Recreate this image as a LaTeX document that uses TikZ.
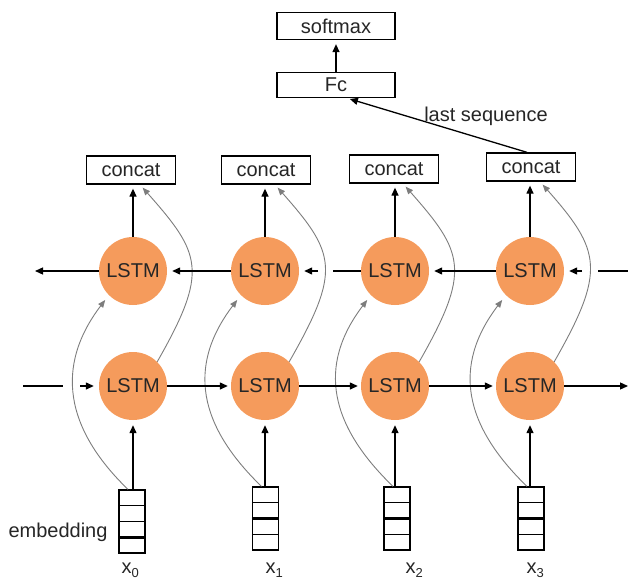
\documentclass[tikz,border=0pt]{standalone}
\usepackage{fontspec}
\setmainfont{Liberation Sans}
\usetikzlibrary{arrows.meta,calc}
\definecolor{lstmorange}{RGB}{245,155,92}
\definecolor{curvegray}{RGB}{125,125,125}
\begin{document}
\begin{tikzpicture}[x=1pt,y=-1pt,
  txt/.style={font=\fontsize{20}{24}\selectfont,text=black!85},
  box/.style={draw=black,line width=1.3pt,fill=white,inner sep=0pt,txt},
  lstm/.style={circle,fill=lstmorange,minimum size=68pt,inner sep=0pt,txt},
  embbox/.style={draw=black,line width=1.2pt,minimum width=26pt,minimum height=63pt,inner sep=0pt},
  conn/.style={line width=1.3pt,black},
  arr/.style={conn,-{Triangle[length=8pt,width=7pt]}},
  garr/.style={line width=0.9pt,curvegray,-{Triangle[length=7.5pt,width=6pt]}},
]
\useasboundingbox (0,0) rectangle (628,580);

\foreach \i/\X/\cx/\cy/\ey/\ex/\th/\lx/\s in {1/133/131/170/521.5/132/3/118/0, 2/265/266/170/518.5/265.5/2/262/1, 3/395/394/169/518.5/397/2/402/2, 4/530/531/167/518.5/531/2/523/3} {
  \node[lstm] (t\i) at (\X,271) {LSTM};
  \node[lstm] (b\i) at (\X,386) {LSTM};
  \node[box,minimum width=89pt,minimum height=28pt] (c\i) at (\cx,\cy) {concat};
  \node[embbox] (e\i) at (\ex,\ey) {};
  \foreach \k in {1,2,3}
    \draw[line width=1.2pt] ($(e\i.north west)!\k/4!(e\i.south west)$) -- ($(e\i.north east)!\k/4!(e\i.south east)$);
  \draw[line width=2.6pt] ($(e\i.north west)!\th/4!(e\i.south west)$) -- ($(e\i.north east)!\th/4!(e\i.south east)$);
  \node[txt,anchor=base west] (x\i) at (\lx,573) {x\raisebox{-4pt}{\fontsize{13}{13}\selectfont \s}};
  \draw[arr,shorten >=4pt] (t\i.north) -- (t\i.north |- c\i.south);
  \draw[arr,shorten >=5pt] (b\i.south |- e\i.north) -- (b\i.south);
  \draw[garr,shorten >=6pt] ($(e\i.north)+(-4,0)$) .. controls +(-63,-61) and +(-54,71) .. (t\i.225);
  \draw[garr,shorten >=4pt] (b\i.45) .. controls +(52,-91) and +(61,69) .. ($(c\i.south)+(9,0)$);
}

% top (backward) row
\coordinate (lt) at (35,271);
\draw[arr] (t1.west) -- (lt);
\draw[arr,shorten >=5pt] (t2.west) -- (t1.east);
\coordinate (g1) at (333,271);
\coordinate (g2) at (318,271);
\draw[conn] (t3.west) -- (g1);
\draw[arr,shorten >=5pt] (g2) -- (t2.east);
\draw[arr,shorten >=5pt] (t4.west) -- (t3.east);
\coordinate (rt) at (628,271);
\coordinate (g3) at (598,271);
\coordinate (g4) at (582,271);
\draw[conn] (rt) -- (g3);
\draw[arr,shorten >=5pt] (g4) -- (t4.east);

% bottom (forward) row
\coordinate (lb) at (23,386);
\coordinate (g5) at (63,386);
\coordinate (g6) at (80,386);
\draw[conn] (lb) -- (g5);
\draw[arr,shorten >=5pt] (g6) -- (b1.west);
\draw[arr,shorten >=3pt] (b1.east) -- (b2.west);
\draw[arr,shorten >=3pt] (b2.east) -- (b3.west);
\draw[arr,shorten >=3pt] (b3.east) -- (b4.west);
\coordinate (rb) at (628,386);
\draw[arr] (b4.east) -- (rb);

% head
\node[box,minimum width=118pt,minimum height=27pt] (soft) at (336,26) {softmax};
\node[box,minimum width=118pt,minimum height=25pt] (fc) at (336,85) {Fc};
\draw[arr,shorten >=4pt] (fc.north) -- (soft.south);
\draw[arr,shorten >=3pt] ($(c4.north)+(-4,0)$) -- ($(fc.south)+(11,0)$);
\node[txt] (ls) at (486,116) {last sequence};
\node[txt,anchor=east] (emb) at (111,532) {embedding};
\end{tikzpicture}
\end{document}
